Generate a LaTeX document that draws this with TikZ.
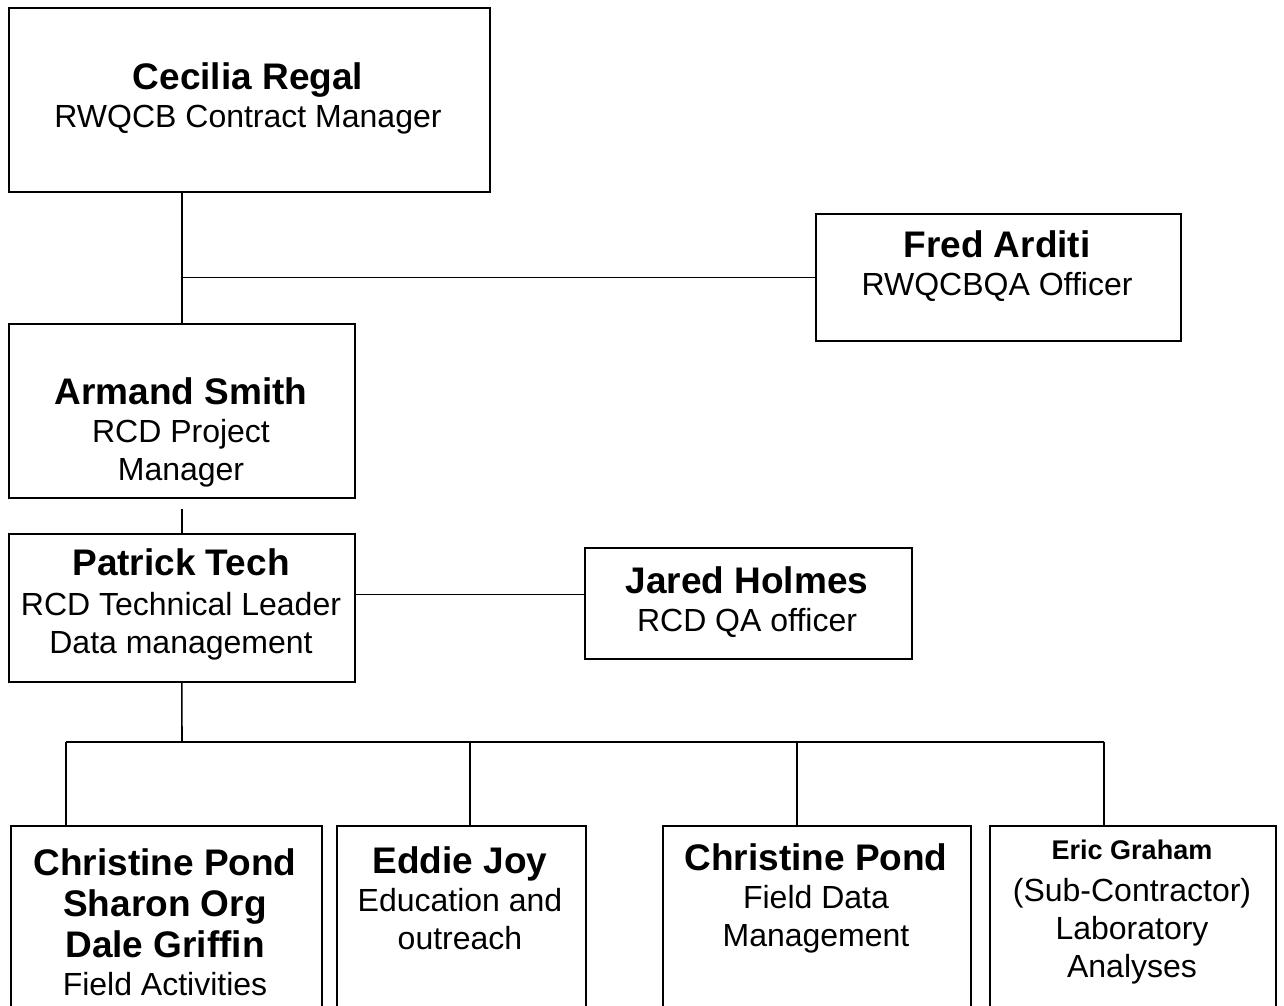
\documentclass[tikz,border=0pt]{standalone}
\usepackage{fontspec}
\setmainfont{Liberation Sans}
\usepackage{tikz}
\usetikzlibrary{calc}

\newcommand{\pname}[1]{{\fontsize{37}{42}\selectfont\bfseries #1}}
\newcommand{\pnamesm}[1]{{\fontsize{27}{34}\selectfont\bfseries #1}}

\begin{document}
\begin{tikzpicture}[x=1pt, y=-1pt,
    box/.style={draw, line width=1.6pt, inner sep=0pt, anchor=north west},
    txt/.style={align=center, font=\fontsize{32}{38}\selectfont, inner sep=0pt},
    link/.style={line width=1.6pt}]
          \useasboundingbox (0,0) rectangle (1284,1005);
          \clip (0,0) rectangle (1284,1005);
          % boxes
          \node[box, minimum width=481pt, minimum height=184pt] (cecilia) at (8,7) {};
          \node[box, minimum width=365pt, minimum height=127pt] (fred) at (815,213) {};
          \node[box, minimum width=346pt, minimum height=174pt] (armand) at (8,323) {};
          \node[box, minimum width=346pt, minimum height=148pt] (patrick) at (8,533) {};
          \node[box, minimum width=327pt, minimum height=111pt] (jared) at (584,547) {};
          \node[box, minimum width=311pt, minimum height=240pt] (pond1) at (10,825) {};
          \node[box, minimum width=249pt, minimum height=240pt] (eddie) at (336,825) {};
          \node[box, minimum width=308pt, minimum height=240pt] (pond2) at (662,825) {};
          \node[box, minimum width=286pt, minimum height=240pt] (eric) at (989,825) {};
          % texts
          \node[txt] (cecilia-t) at (248,98)
            {\pname{Cecilia Regal}\\RWQCB Contract Manager};
          \node[txt] (fred-t) at (997,266)
            {\pname{Fred Arditi}\\RWQCBQA Officer};
          \node[txt] (armand-t) at (181,432)
            {\pname{Armand Smith}\\RCD Project\\Manager};
          \node[txt] (patrick-t) at (181,604)
            {\pname{Patrick Tech}\\[2pt]RCD Technical Leader\\Data management};
          \node[txt] (jared-t) at (747,602)
            {\pname{Jared Holmes}\\RCD QA officer};
          \node[txt] (pond1-t) at (165,922)
            {\pname{Christine Pond}\\[3pt]\pname{Sharon Org}\\[3pt]\pname{Dale Griffin}\\Field Activities};
          \node[txt] (eddie-t) at (460,898)
            {\pname{Eddie Joy}\\Education and\\outreach};
          \node[txt] (pond2-t) at (816,898)
            {\pname{Christine Pond}\\Field Data\\Management};
          \node[txt] (eric-t) at (1132,912)
            {\pnamesm{Eric Graham}\\[4pt](Sub-Contractor)\\Laboratory\\Analyses};
          % connectors
          \draw[link] (cecilia.south -| armand.north) -- (armand.north);
          \draw[link] (armand.north |- fred.west) -- (fred.west);
          \draw[link] ([yshift=-10pt]armand.south) -- (patrick.north);
          \draw[link] ([yshift=9pt]jared.west -| patrick.east) -- ([yshift=9pt]jared.west);
          \coordinate (bus) at (182,742);
          \draw[link] (patrick.south) -- (bus);
          \foreach \x/\b [count=\i] in {66/pond1, 470/eddie, 797/pond2, 1104/eric} {
            \coordinate (d\i) at (\x,742);
            \draw[link] (d\i) -- (d\i |- \b.north);
          }
          \draw[link] (d1) -- (d4);
        \end{tikzpicture}
\end{document}
